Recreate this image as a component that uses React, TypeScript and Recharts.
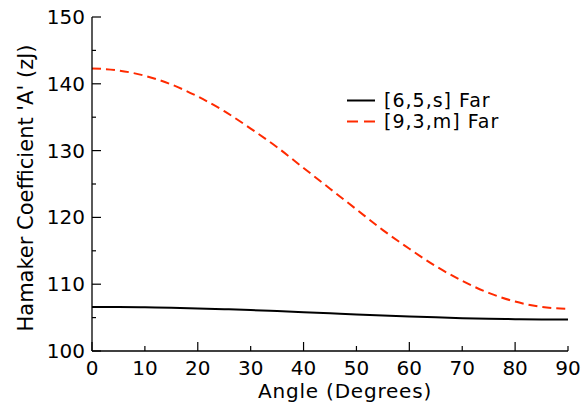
import { Line, LineChart, XAxis, YAxis } from "recharts";

const angles = [0, 5, 10, 15, 20, 25, 30, 35, 40, 45, 50, 55, 60, 65, 70, 75, 80, 85, 90];
const farS65 = [
  106.6, 106.59, 106.54, 106.47, 106.38, 106.26, 106.13, 105.97, 105.81, 105.65, 105.48, 105.32,
  105.18, 105.04, 104.92, 104.83, 104.76, 104.71, 104.7,
];
const farM93 = [
  142.3, 142.0, 141.2, 139.9, 138.1, 135.9, 133.3, 130.5, 127.4, 124.3, 121.2, 118.1, 115.3, 112.7,
  110.5, 108.7, 107.4, 106.6, 106.3,
];
const xTicks = [0, 10, 20, 30, 40, 50, 60, 70, 80, 90];
const yTicks = [100, 105, 110, 115, 120, 125, 130, 135, 140, 145, 150];

const series = [
  { key: "s65", label: "[6,5,s] Far", color: "#000000", dash: undefined as string | undefined },
  { key: "m93", label: "[9,3,m] Far", color: "#ff2a00", dash: "9 5" },
];

const rows = angles.map((a, i) => ({ angle: a, s65: farS65[i], m93: farM93[i] }));

const FONT = "'DejaVu Sans', sans-serif";

// matplotlib-style inward ticks: long on majors, short on minors
function BottomTick(props: any) {
  const { x, y, payload } = props;
  const v = payload.value as number;
  const len = v % 20 === 0 ? 9 : 5;
  return (
    <g>
      <line x1={x} x2={x} y1={y} y2={y - len} stroke="#000" strokeWidth={1.2} />
      <text x={x} y={y + 24} textAnchor="middle" fontSize={20} fontFamily={FONT} fill="#000">
        {v}
      </text>
    </g>
  );
}

function TopTick(props: any) {
  const { x, y, payload } = props;
  const len = (payload.value as number) % 20 === 0 ? 9 : 5;
  return <line x1={x} x2={x} y1={y} y2={y + len} stroke="#000" strokeWidth={1.2} />;
}

function LeftTick(props: any) {
  const { x, y, payload } = props;
  const v = payload.value as number;
  const major = v % 10 === 0;
  return (
    <g>
      <line x1={x} x2={x + (major ? 9 : 4)} y1={y} y2={y} stroke="#000" strokeWidth={1.2} />
      {major && (
        <text x={x - 7} y={y + 7} textAnchor="end" fontSize={20} fontFamily={FONT} fill="#000">
          {v}
        </text>
      )}
    </g>
  );
}

function RightTick(props: any) {
  const { x, y, payload } = props;
  const len = (payload.value as number) % 10 === 0 ? 9 : 4;
  return <line x1={x} x2={x - len} y1={y} y2={y} stroke="#000" strokeWidth={1.2} />;
}

export default function App() {
  return (
    <div style={{ position: "absolute", left: 0, top: 0, width: 583, height: 403, background: "#fff" }}>
      <LineChart width={583} height={403} data={rows} margin={{ top: 17, right: 15, bottom: 0, left: 0 }}>
        <XAxis
          dataKey="angle"
          type="number"
          domain={[0, 90]}
          ticks={xTicks}
          interval={0}
          height={52}
          tickSize={0}
          tickMargin={0}
          tickLine={false}
          axisLine={{ stroke: "#000", strokeWidth: 1.3 }}
          tick={<BottomTick />}
          label={{
            content: (p: any) => (
              <text
                x={p.viewBox.x + p.viewBox.width / 2 + 15}
                y={397.5}
                textAnchor="middle"
                fontSize={20}
                letterSpacing={0.8}
                fontFamily={FONT}
                fill="#000"
              >
                Angle (Degrees)
              </text>
            ),
          }}
        />
        <XAxis
          xAxisId="top"
          orientation="top"
          type="number"
          domain={[0, 90]}
          ticks={xTicks}
          interval={0}
          height={0}
          tickSize={0}
          tickMargin={0}
          tickLine={false}
          allowDataOverflow
          axisLine={{ stroke: "#000", strokeWidth: 1.3 }}
          tick={<TopTick />}
        />
        <YAxis
          type="number"
          domain={[100, 150]}
          ticks={yTicks}
          interval={0}
          width={92}
          tickSize={0}
          tickMargin={0}
          tickLine={false}
          axisLine={{ stroke: "#000", strokeWidth: 1.3 }}
          tick={<LeftTick />}
          label={{
            content: () => (
              <text
                x={33}
                y={188}
                transform="rotate(-90 33 188)"
                textAnchor="middle"
                fontSize={21}
                fontFamily={FONT}
                fill="#000"
              >
                Hamaker Coefficient 'A' (zJ)
              </text>
            ),
          }}
        />
        <YAxis
          yAxisId="right"
          orientation="right"
          type="number"
          domain={[100, 150]}
          ticks={yTicks}
          interval={0}
          width={0}
          tickSize={0}
          tickMargin={0}
          tickLine={false}
          allowDataOverflow
          axisLine={{ stroke: "#000", strokeWidth: 1.3 }}
          tick={<RightTick />}
        />
        {series.map((s) => (
          <Line
            key={s.key}
            type="monotone"
            dataKey={s.key}
            stroke={s.color}
            strokeWidth={2}
            strokeDasharray={s.dash}
            dot={false}
            activeDot={false}
            isAnimationActive={false}
          />
        ))}
      </LineChart>
      <div style={{ position: "absolute", left: 347, top: 90, fontFamily: FONT, fontSize: 19, lineHeight: "20px" }}>
        {series.map((s) => (
          <div key={s.key} style={{ display: "flex", alignItems: "center", height: 20.5 }}>
            <svg width={30} height={20} style={{ display: "block" }}>
              <line
                x1={0}
                x2={28}
                y1={10.5}
                y2={10.5}
                stroke={s.color}
                strokeWidth={2}
                strokeDasharray={s.dash ? "11 6" : undefined}
              />
            </svg>
            <span style={{ marginLeft: 7, whiteSpace: "nowrap", letterSpacing: 1 }}>{s.label}</span>
          </div>
        ))}
      </div>
    </div>
  );
}
